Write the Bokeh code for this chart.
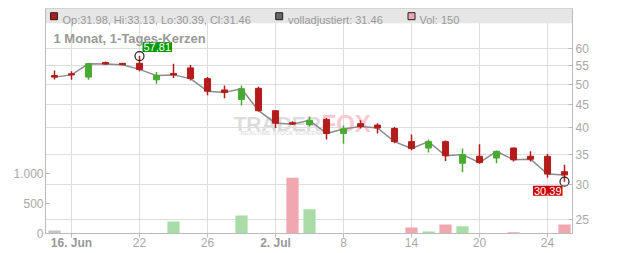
import math
from bokeh.plotting import figure
from bokeh.models import (Range1d, LinearScale, LinearAxis, FixedTicker,
                          PrintfTickFormatter, Label, BoxAnnotation, ColumnDataSource)
from bokeh.embed import file_html
from bokeh.resources import INLINE

# ---------------- data ----------------
dates = ["15.06.", "16.06.", "17.06.", "18.06.", "19.06.", "22.06.", "23.06.", "24.06.",
         "25.06.", "26.06.", "29.06.", "30.06.", "01.07.", "02.07.", "03.07.", "06.07.",
         "07.07.", "08.07.", "09.07.", "10.07.", "13.07.", "14.07.", "15.07.", "16.07.",
         "17.07.", "20.07.", "21.07.", "22.07.", "23.07.", "24.07.", "25.07."]
opens = [52.3, 52.8, 51.9, 55.9, 55.7, 55.7, 51.2, 52.9, 54.4, 51.5,
         48.6, 46.3, 49.0, 43.7, 41.1, 40.7, 41.8, 38.9, 40.9, 40.6,
         39.9, 37.3, 36.1, 37.3, 33.4, 34.6, 34.3, 36.1, 34.6, 34.6, 31.98]
highs = [53.7, 53.5, 55.6, 56.2, 55.8, 57.81, 53.3, 55.6, 55.2, 51.9,
         49.7, 49.7, 49.4, 43.8, 41.4, 42.4, 42.1, 40.5, 41.6, 41.0,
         40.2, 38.7, 37.7, 37.5, 36.0, 36.8, 35.6, 36.2, 35.5, 35.0, 33.13]
lows = [51.3, 51.2, 51.2, 55.3, 55.2, 53.5, 50.2, 51.7, 51.0, 47.3,
        46.6, 44.9, 43.5, 40.0, 40.6, 40.3, 37.7, 36.9, 39.9, 38.9,
        37.0, 35.7, 35.3, 33.8, 31.9, 33.3, 33.4, 33.7, 33.7, 31.0, 30.39]
closes = [51.9, 52.5, 55.6, 55.5, 55.3, 54.0, 52.3, 52.5, 51.5, 48.3,
          48.0, 48.9, 43.7, 41.0, 40.8, 41.6, 38.9, 39.8, 40.3, 40.0,
          37.3, 36.0, 37.3, 34.7, 34.9, 33.5, 35.5, 34.0, 34.1, 31.6, 31.46]
volumes = [50, 0, 0, 0, 0, 0, 0, 200, 0, 0,
           0, 300, 0, 0, 925, 400, 0, 0, 0, 0,
           0, 100, 35, 150, 120, 0, 0, 20, 0, 0, 150]

tick_idx = [1, 5, 9, 13, 17, 21, 25, 29]
tick_labels = ["16. Jun", "22", "26", "2. Jul", "8", "14", "20", "24"]
tick_bold = [True, False, False, True, False, False, False, False]
price_ticks = [25, 30, 35, 40, 45, 50, 55, 60]
vol_ticks = [0, 500, 1000]
vol_tick_labels = ["0", "500", "1.000"]
title_text = "1 Monat, 1-Tages-Kerzen"

# ---------------- layout constants (pixels) ----------------
W, H = 632, 253
FL, FR, FT, FB = 45, 572, 8, 233
X0_PX, DAY_PX = 54.0, 17.0
P_REF, P_REF_PX, LN_PX = 60.0, 48.3, 195.3
VOL_PX = 30.2 / 500.0
FONT = "Liberation Sans"

def xd(px):
    return (px - X0_PX) / DAY_PX

def yd(py):
    return P_REF * math.exp(-(py - P_REF_PX) / LN_PX)

RED, GREEN = "#b41c1c", "#48aa32"
VRED, VGREEN, VGRAY = "#f0a7b0", "#a9dca6", "#c4c4c4"
AXC, LABC = "#bbbbbb", "#a8a8a8"

n = len(dates)
idx = list(range(n))
ccol = [GREEN if c >= o else RED for o, c in zip(opens, closes)]
vcol = [VGRAY] + [VGREEN if closes[i] >= closes[i - 1] else VRED for i in range(1, n)]

p = figure(width=W, height=H, x_range=Range1d(xd(FL), xd(FR)),
           y_range=Range1d(yd(FB), yd(FT)), y_axis_type="log", y_axis_location="right",
           output_backend="svg", toolbar_location=None,
           min_border_left=FL, min_border_right=W - FR, min_border_top=FT,
           min_border_bottom=H - FB, background_fill_color="white",
           border_fill_color="white", outline_line_color="#cccccc")
p.extra_y_ranges = {"vol": Range1d(0, (FB - FT) / VOL_PX)}
p.extra_y_scales = {"vol": LinearScale()}

# grid
p.xgrid.ticker = FixedTicker(ticks=tick_idx)
p.ygrid.ticker = FixedTicker(ticks=price_ticks)
for g in (p.xgrid, p.ygrid):
    g.grid_line_color = "#dddddd"
    g.grid_line_width = 1

def style_axis(ax, tin, tout, standoff):
    ax.axis_line_color = AXC
    ax.major_tick_line_color = AXC
    ax.major_tick_in = tin
    ax.major_tick_out = tout
    ax.minor_tick_line_color = None
    ax.major_label_standoff = standoff
    ax.major_label_text_color = LABC
    ax.major_label_text_font = FONT
    ax.major_label_text_font_size = "12px"

# bottom axis (normal labels)
xa = p.xaxis[0]
xa.ticker = FixedTicker(ticks=tick_idx)
xa.major_label_overrides = {t: ("" if b else l) for t, l, b in zip(tick_idx, tick_labels, tick_bold)}
style_axis(xa, 0, 4, 0)

# second bottom axis carrying the bold month labels, pulled up onto the same row
xb = LinearAxis(ticker=FixedTicker(ticks=[t for t, b in zip(tick_idx, tick_bold) if b]),
                major_label_overrides={t: l for t, l, b in zip(tick_idx, tick_labels, tick_bold) if b})
style_axis(xb, 0, 0, -14)
xb.axis_line_color = None
xb.major_tick_line_color = None
xb.major_label_text_font_style = "bold"
xb.major_label_text_color = "#999999"
p.add_layout(xb, "below")

# right price axis
ya = p.yaxis[0]
ya.ticker = FixedTicker(ticks=price_ticks)
ya.formatter = PrintfTickFormatter(format="%d")
style_axis(ya, 4, 0, 3)

# left volume axis
va = LinearAxis(y_range_name="vol", ticker=FixedTicker(ticks=vol_ticks),
                major_label_overrides={t: l for t, l in zip(vol_ticks, vol_tick_labels)})
style_axis(va, 4, 0, 2)
p.add_layout(va, "left")

# header bar
p.add_layout(BoxAnnotation(bottom=yd(22.7), fill_color="#e6e6e6", fill_alpha=1.0,
                           line_alpha=0, level="underlay"))

# watermark
for txt, xpx, col, fs in (("TRADER", 233, "#dcdcdc", "21px"), ("FOX", 321, "#f8c9d0", "24px")):
    p.add_layout(Label(x=xd(xpx), y=yd(123.3), text=txt, text_font=FONT,
                       text_font_style="bold", text_font_size=fs, text_color=col,
                       text_baseline="alphabetic", level="underlay"))
p.add_layout(Label(x=xd(240), y=yd(132), text="REALTIME STOCK SCREENER", text_font=FONT,
                   text_font_style="bold", text_font_size="6px", text_color="#e2e2e2",
                   text_baseline="alphabetic", level="underlay"))

# volume bars
vsrc = ColumnDataSource(dict(x=[i for i in idx if volumes[i] > 0],
                             top=[v for v in volumes if v > 0],
                             color=[vcol[i] for i in idx if volumes[i] > 0]))
p.vbar(x="x", top="top", bottom=0, width=0.72, source=vsrc, y_range_name="vol",
       fill_color="color", line_alpha=0)

# close line
p.line(idx, closes, line_color="#8c8c8c", line_width=1.5)

# candles
csrc = ColumnDataSource(dict(x=idx, o=opens, h=highs, l=lows, c=closes, color=ccol,
                             top=[max(o, c) for o, c in zip(opens, closes)],
                             bot=[min(o, c) for o, c in zip(opens, closes)]))
p.segment(x0="x", y0="h", x1="x", y1="l", line_color="color", line_width=1.5, source=csrc)
p.vbar(x="x", top="top", bottom="bot", width=0.36, fill_color="color",
       line_color="color", line_width=1, source=csrc)

# high / low markers
ih = max(idx, key=lambda i: highs[i])
il = min(idx, key=lambda i: lows[i])
p.scatter([ih, il], [highs[ih], lows[il]], marker="circle", size=9, fill_alpha=0,
          line_color="#222222", line_width=1.2)
p.add_layout(Label(x=ih, y=highs[ih], text=f"{highs[ih]:.2f}".replace(".", ","),
                   text_font=FONT, text_font_size="11px", text_color="white",
                   text_align="left", text_baseline="bottom", x_offset=3, y_offset=4,
                   background_fill_color="#009900", padding=1))
p.add_layout(Label(x=il, y=lows[il], text=f"{lows[il]:.2f}".replace(".", ","),
                   text_font=FONT, text_font_size="11px", text_color="white",
                   text_align="right", text_baseline="top", x_offset=-2, y_offset=-4,
                   background_fill_color="#cc0000", padding=1))

# title
p.add_layout(Label(x=xd(53), y=yd(37.7), text=title_text, text_font=FONT,
                   text_font_style="bold", text_font_size="13px", text_color="#999999",
                   text_baseline="alphabetic"))

# header legend
leg_y = yd(19.7)
sq_y = yd(15.7)
leg_items = [
    (53.5, 62, RED, f"Op:{opens[-1]:.2f}, Hi:{highs[-1]:.2f}, Lo:{lows[-1]:.2f}, Cl:{closes[-1]:.2f}"),
    (278.7, 287.5, "#666666", f"volladjustiert: {closes[-1]:.2f}"),
    (411, 419, VRED, f"Vol: {volumes[-1]}"),
]
p.scatter([xd(a) for a, _, _, _ in leg_items], [sq_y] * 3, marker="square", size=7,
          fill_color=[c for _, _, c, _ in leg_items], line_color="#222222", line_width=1)
for _, tx, _, txt in leg_items:
    p.add_layout(Label(x=xd(tx), y=leg_y, text=txt, text_font=FONT, text_font_size="11px",
                       text_color="#999999", text_baseline="alphabetic"))

open("out.html", "w").write(file_html(p, INLINE))
